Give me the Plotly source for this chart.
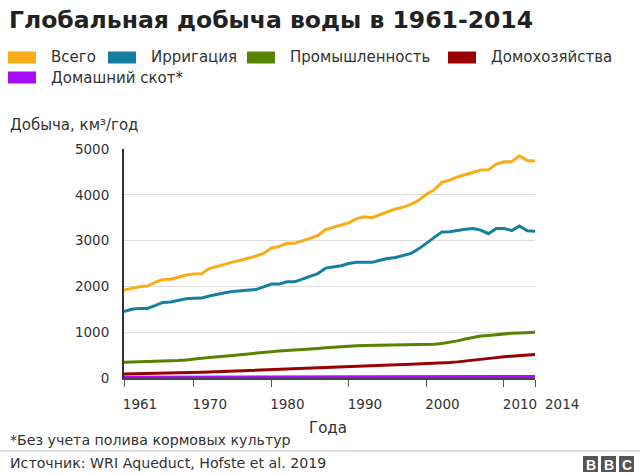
import plotly.graph_objects as go

years = list(range(1961, 2015))

total = [1920, 1960, 1993, 2008, 2090, 2150, 2155, 2200, 2250, 2270,
         2275, 2390, 2440, 2490, 2530, 2570, 2610, 2660, 2720, 2840,
         2870, 2940, 2940, 3000, 3060, 3110, 3240, 3290, 3340, 3390,
         3480, 3520, 3500, 3570, 3630, 3690, 3730, 3790, 3880, 4010,
         4110, 4270, 4320, 4390, 4440, 4490, 4540, 4545, 4670, 4720,
         4725, 4850, 4750, 4740]

irrigation = [1450, 1500, 1520, 1520, 1580, 1650, 1660, 1700, 1730, 1740,
              1745, 1790, 1830, 1860, 1890, 1900, 1920, 1930, 1990, 2050,
              2050, 2100, 2100, 2160, 2230, 2280, 2400, 2420, 2450, 2500,
              2525, 2525, 2525, 2570, 2610, 2630, 2680, 2720, 2820, 2940,
              3080, 3190, 3195, 3230, 3250, 3265, 3230, 3150, 3265, 3265,
              3220, 3320, 3215, 3205]

industry = [345, 348, 352, 355, 360, 365, 372, 380, 395, 420,
            432, 445, 455, 470, 490, 510, 530, 545, 560, 575,
            588, 597, 605, 615, 630, 645, 660, 675, 688, 700,
            705, 710, 713, 715, 718, 718, 718, 718, 720, 722,
            735, 755, 780, 810, 850, 890, 915, 930, 950, 970,
            978, 985, 995, 1000]

domestic = [90, 92, 94, 96, 98, 100, 103, 107, 112, 118,
            124, 130, 137, 145, 152, 160, 168, 175, 182, 190,
            197, 204, 210, 216, 222, 228, 234, 240, 246, 252,
            258, 264, 270, 276, 282, 288, 293, 298, 303, 308,
            315, 325, 338, 352, 368, 385, 405, 425, 445, 465,
            475, 485, 500, 515]

livestock = [18, 18, 18, 19, 19, 19, 19, 20, 20, 20,
             20, 21, 21, 21, 21, 22, 22, 22, 22, 23,
             23, 23, 23, 24, 24, 24, 24, 25, 25, 25,
             25, 25, 26, 26, 26, 26, 26, 27, 27, 27,
             27, 28, 28, 28, 28, 29, 29, 29, 29, 30,
             30, 30, 30, 31]

series_names = ["Всего", "Ирригация", "Промышленность", "Домохозяйства", "Домашний скот*"]
series_values = [total, irrigation, industry, domestic, livestock]
colors = ["#FAAB18", "#1380A1", "#588300", "#990000", "#A60CF5"]

x_tick_vals = [1961, 1970, 1980, 1990, 2000, 2010, 2014]
x_tick_text = ["1961", "1970", "1980", "1990", "2000", "2010", ""]
last_year_label = "2014"
y_tick_vals = [0, 1000, 2000, 3000, 4000, 5000]

title_text = "Глобальная добыча воды в 1961-2014"
y_title = "Добыча, км³/год"
x_title = "Года"
footnote = "*Без учета полива кормовых культур"
source = "Источник: WRI Aqueduct, Hofste et al. 2019"

W, H = 640, 475
L, R, T, B = 124, 535, 149, 378
FONT = "DejaVu Sans"
TXT = "#333333"


def px(x):
    return (x - L) / (R - L)


def py(y):
    return (B - y) / (B - T)


fig = go.Figure()
for name, vals, col in zip(series_names, series_values, colors):
    fig.add_trace(go.Scatter(x=years, y=vals, mode="lines", name=name,
                             line=dict(color=col, width=3), showlegend=False,
                             hoverinfo="skip"))

shapes = []
annotations = []


def text(x, y, s, size, xanchor="left", color=TXT, weight="normal"):
    annotations.append(dict(x=px(x), y=py(y), xref="paper", yref="paper",
                            text=s, showarrow=False, xanchor=xanchor, yanchor="middle",
                            font=dict(family=FONT, size=size, color=color, weight=weight)))


# title and labels
text(7, 20, title_text, 23.5, color="#222222", weight="bold")
text(8, 125, y_title, 15)
text(328, 428, x_title, 15, xanchor="center")
text(8, 440, footnote, 14.2)
text(8, 463, source, 14.2)

# last x tick label placed past the axis end, on the x scale
annotations.append(dict(x=x_tick_vals[-1], y=py(404), xref="x", yref="paper",
                        text=last_year_label, showarrow=False, xanchor="left",
                        yanchor="middle", xshift=8,
                        font=dict(family=FONT, size=13.5, color=TXT)))

# custom legend
legend_pos = [(8, 57.5), (108, 57.5), (247, 57.5), (448, 57.5), (8, 77.5)]
for (lx, ly), name, col in zip(legend_pos, series_names, colors):
    shapes.append(dict(type="rect", xref="paper", yref="paper",
                       x0=px(lx), x1=px(lx + 28), y0=py(ly - 6), y1=py(ly + 6),
                       fillcolor=col, line=dict(width=0)))
    text(lx + 41, ly, name, 15)

# separator line
shapes.append(dict(type="line", xref="paper", yref="paper",
                   x0=px(0), x1=px(640), y0=py(451), y1=py(451),
                   line=dict(color="#bbbbbb", width=1)))

# BBC logo
for i, letter in enumerate(["B", "B", "C"]):
    x0 = 583 + i * 18
    shapes.append(dict(type="rect", xref="paper", yref="paper",
                       x0=px(x0), x1=px(x0 + 15), y0=py(472), y1=py(456),
                       fillcolor="#555555", line=dict(width=0)))
    annotations.append(dict(x=px(x0 + 7.5), y=py(464.5), xref="paper", yref="paper",
                            text=letter, showarrow=False, xanchor="center", yanchor="middle",
                            font=dict(family="Liberation Sans", size=14, color="white",
                                      weight="bold")))

fig.update_layout(
    width=W, height=H,
    margin=dict(l=L, r=W - R, t=T, b=H - B, pad=0),
    paper_bgcolor="white", plot_bgcolor="white",
    shapes=shapes, annotations=annotations,
    showlegend=False,
    xaxis=dict(range=[1961, 2014], tickvals=x_tick_vals, ticktext=x_tick_text,
               ticks="outside", ticklen=7, tickcolor="#555555", tickwidth=1,
               showline=True, linecolor="#444444", linewidth=1.5,
               showgrid=False, zeroline=False, ticklabelshift=16, tickangle=0,
               ticklabelstandoff=6,
               tickfont=dict(family=FONT, size=13.5, color=TXT)),
    yaxis=dict(range=[0, 5000], tickvals=y_tick_vals,
               showline=True, linecolor="#333333", linewidth=2,
               gridcolor="#dddddd", gridwidth=1, zeroline=False,
               ticks="", ticklabelstandoff=10,
               tickfont=dict(family=FONT, size=13.5, color=TXT)),
)

fig.write_html("out.html")
